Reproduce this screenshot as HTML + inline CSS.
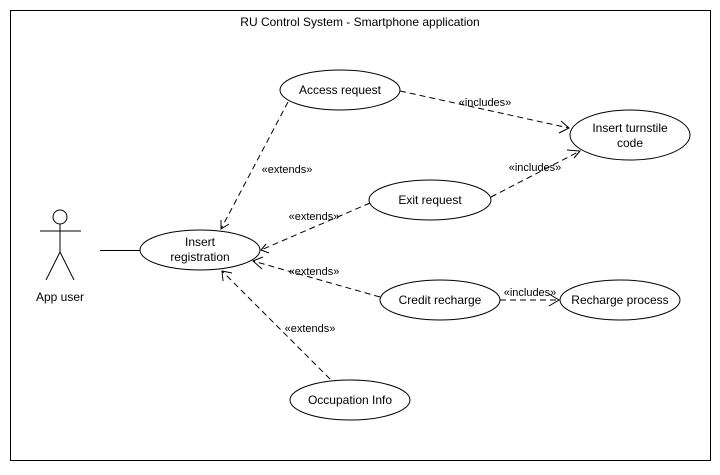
<!DOCTYPE html>
<html><head><style>body{margin:0;background:#fff}</style></head><body>
<svg width="720" height="470" xmlns="http://www.w3.org/2000/svg" font-family="Liberation Sans, Arial, sans-serif" font-size="12">
<rect width="720" height="470" fill="#fff"/>
<rect x="10.5" y="10.5" width="700" height="450" fill="none" stroke="#000"/>
<text x="360" y="26" text-anchor="middle">RU Control System - Smartphone application</text>
<g fill="none" stroke="#000">
<circle cx="60" cy="217" r="7"/>
<line x1="60" y1="224" x2="60" y2="252"/>
<line x1="40" y1="231" x2="81" y2="231"/>
<line x1="60" y1="252" x2="46" y2="280"/>
<line x1="60" y1="252" x2="74" y2="280"/>
<line x1="100" y1="250.5" x2="140" y2="250.5"/>
<ellipse cx="340" cy="90" rx="60" ry="20"/>
<ellipse cx="630" cy="135" rx="60" ry="25"/>
<ellipse cx="430" cy="200" rx="61" ry="20"/>
<ellipse cx="200" cy="250" rx="60" ry="20"/>
<ellipse cx="440" cy="300" rx="60" ry="20"/>
<ellipse cx="620" cy="300" rx="60" ry="20"/>
<ellipse cx="350" cy="400" rx="60" ry="20"/>
<g stroke-dasharray="6,4">
<line x1="288" y1="102" x2="221" y2="229"/>
<line x1="400" y1="91" x2="569" y2="128"/>
<line x1="491" y1="197" x2="580" y2="151"/>
<line x1="370" y1="203" x2="261" y2="250"/>
<line x1="380" y1="297" x2="253" y2="261"/>
<line x1="500" y1="300" x2="559" y2="300"/>
<line x1="330" y1="379" x2="222" y2="271"/>
</g>
<polyline points="221,220 221,229 229,224"/>
<polyline points="561,121 569,128 559,133"/>
<polyline points="567,150 580,151 574,158"/>
<polyline points="269,253 261,250 266,244"/>
<polyline points="262,269 253,261 263,257"/>
<polyline points="549,294 559,300 549,306"/>
<polyline points="223,281 222,271 232,273"/>
</g>
<g text-anchor="middle" fill="#000">
<text x="340" y="94">Access request</text>
<text x="630" y="132">Insert turnstile</text>
<text x="630" y="147">code</text>
<text x="430" y="204">Exit request</text>
<text x="200" y="246">Insert</text>
<text x="200" y="261">registration</text>
<text x="440" y="304">Credit recharge</text>
<text x="620" y="304">Recharge process</text>
<text x="350" y="404">Occupation Info</text>
<text x="60" y="301">App user</text>
<text x="287" y="173" font-size="11">«extends»</text>
<text x="314" y="220" font-size="11">«extends»</text>
<text x="314" y="275" font-size="11">«extends»</text>
<text x="310" y="332" font-size="11">«extends»</text>
<text x="485" y="106" font-size="11">«includes»</text>
<text x="535" y="171" font-size="11">«includes»</text>
<text x="530" y="296" font-size="11">«includes»</text>
</g>
</svg>
</body></html>
